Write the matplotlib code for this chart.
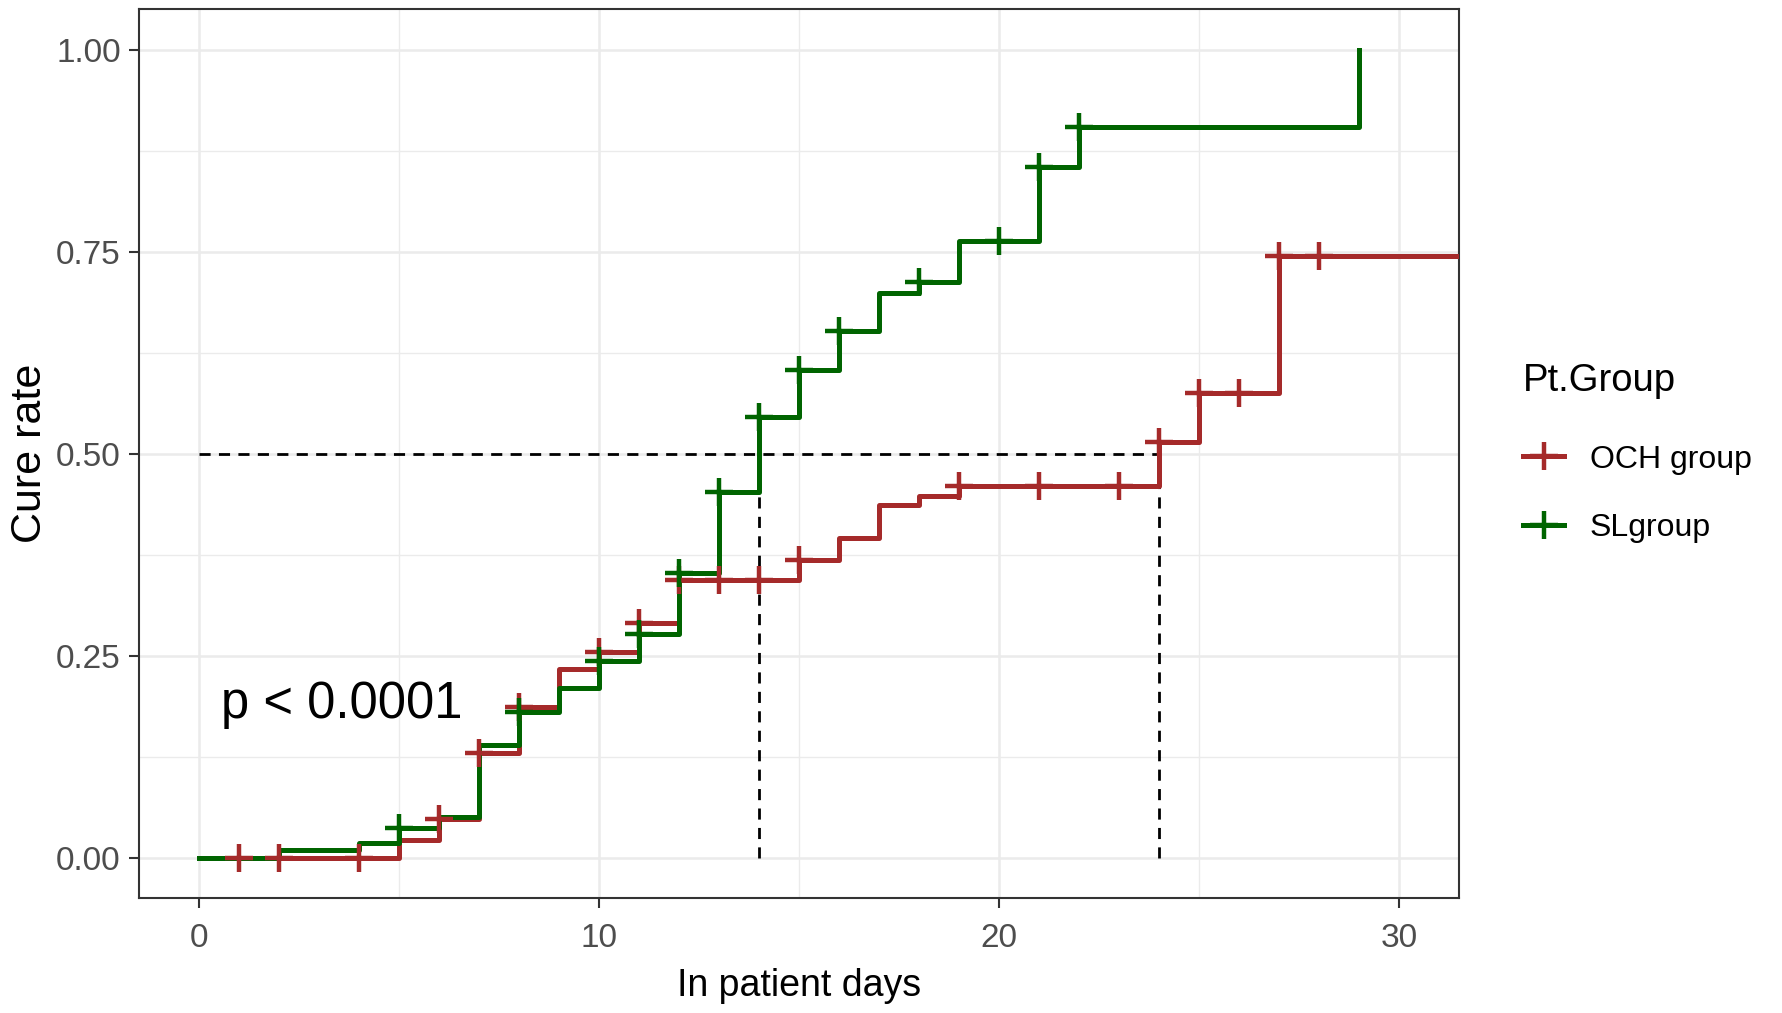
import numpy as np
import matplotlib.pyplot as plt
from matplotlib.lines import Line2D
from matplotlib.ticker import MultipleLocator

plt.rcParams['font.family'] = ['Liberation Sans', 'DejaVu Sans']

# step data (time in days, cumulative cure rate)
och_t = [0, 5, 6, 7, 8, 9, 10, 11, 12, 15, 16, 17, 18, 19, 24, 25, 27, 34]
och_y = [0, 0.022, 0.048, 0.13, 0.187, 0.233, 0.254, 0.29, 0.344, 0.368, 0.395,
         0.437, 0.447, 0.46, 0.514, 0.575, 0.745, 0.745]
och_cens = [1, 2, 4, 6, 7, 8, 10, 11, 12, 13, 14, 15, 19, 21, 23, 24, 25, 26, 27, 28]

sl_t = [0, 2, 4, 5, 6, 7, 8, 9, 10, 11, 12, 13, 14, 15, 16, 17, 18, 19, 21, 22, 29]
sl_y = [0, 0.01, 0.018, 0.037, 0.05, 0.14, 0.18, 0.21, 0.244, 0.277, 0.352, 0.453,
        0.545, 0.603, 0.652, 0.699, 0.712, 0.763, 0.855, 0.904, 1.0]
sl_cens = [5, 8, 10, 11, 12, 13, 14, 15, 16, 18, 20, 21, 22]

medians = [14, 24]
p_text = "p < 0.0001"

red = "#A52A2A"
green = "#006400"


def at(ts, ys, t):
    i = np.searchsorted(ts, t, side='right') - 1
    return ys[i]


fig = plt.figure(figsize=(17.83, 10.13), dpi=100)
ax = fig.add_axes([0.0778, 0.1134, 0.7405, 0.8776])

# dashed median lines
dash = (0, (4, 3))
ax.plot([0, max(medians)], [0.5, 0.5], ls=dash, color='black', lw=2, zorder=3)
for m in medians:
    ax.plot([m, m], [0, 0.5], ls=dash, color='black', lw=2, zorder=3)

for ts, ys, cens, col in [(och_t, och_y, och_cens, red), (sl_t, sl_y, sl_cens, green)]:
    ax.step(ts, ys, where='post', color=col, lw=3.6, zorder=4)
    cy = [at(np.array(ts), ys, c) for c in cens]
    ax.plot(cens, cy, ls='none', marker='+', ms=20, mew=3.2, color=col, zorder=5)

ax.text(0.55, 0.19, p_text, fontsize=36.5, va='center', ha='left', color='black')

ax.set_xlim(-1.5, 31.5)
ax.set_ylim(-0.05, 1.05)
ax.xaxis.set_major_locator(MultipleLocator(10))
ax.xaxis.set_minor_locator(MultipleLocator(5))
ax.yaxis.set_minor_locator(MultipleLocator(0.125))
ax.set_yticks([0, 0.25, 0.5, 0.75, 1.0])
ax.set_yticklabels(['0.00', '0.25', '0.50', '0.75', '1.00'])
ax.grid(which='major', color='#EBEBEB', lw=1.8)
ax.grid(which='minor', color='#EBEBEB', lw=1.0)
ax.set_axisbelow(True)
ax.tick_params(which='major', length=7, width=1.5, color='#333333',
               labelsize=24, labelcolor='#4D4D4D', pad=6)
ax.tick_params(axis='x', which='major', pad=11)
ax.tick_params(which='minor', length=0)
for s in ax.spines.values():
    s.set_color('#333333')
    s.set_linewidth(1.5)

ax.set_xlabel('In patient days', fontsize=27, labelpad=10)
ax.set_ylabel('Cure rate', fontsize=31, labelpad=4)

handles = [Line2D([], [], color=red, lw=3.6, marker='+', ms=20, mew=3.2),
           Line2D([], [], color=green, lw=3.6, marker='+', ms=20, mew=3.2)]
leg = fig.legend(handles, ['OCH group', 'SLgroup'], title='Pt.Group',
                 loc='center left', bbox_to_anchor=(0.838, 0.553), frameon=False,
                 fontsize=23, title_fontsize=27.5, handlelength=1.3,
                 labelspacing=1.2, handletextpad=0.8)
leg._legend_box.align = 'left'
leg._legend_box.sep = 33

fig.savefig('out.png', dpi=100)
